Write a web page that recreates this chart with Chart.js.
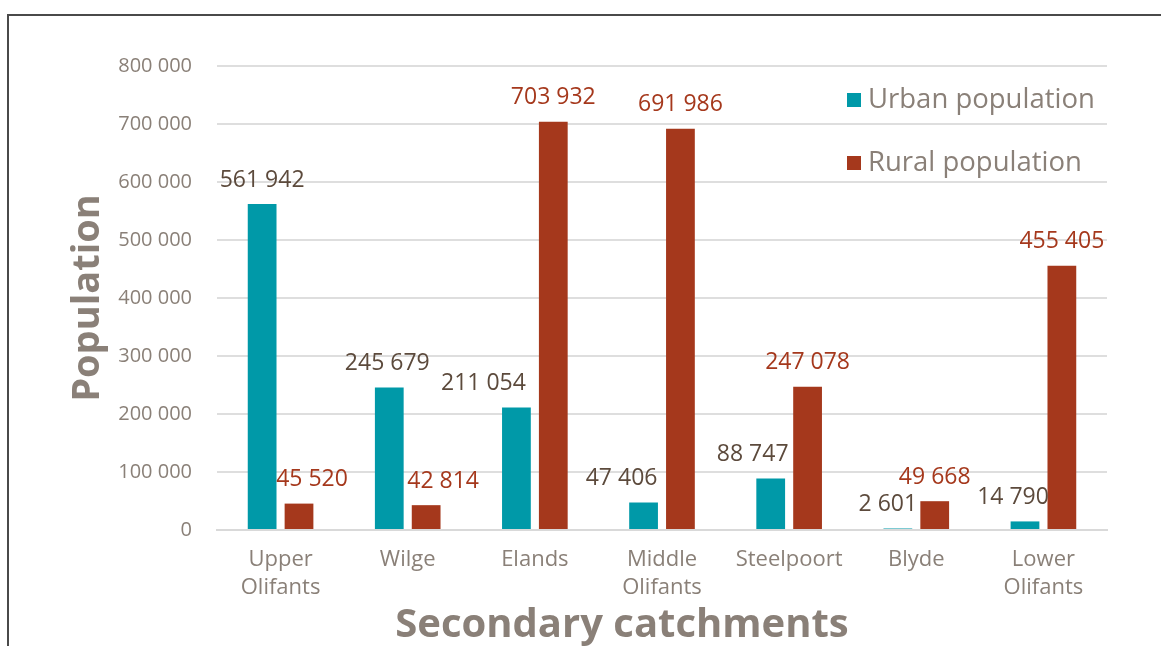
<!DOCTYPE html>
<html>
<head>
<meta charset="utf-8">
<script src="https://cdn.jsdelivr.net/npm/chart.js@4"></script>
<style>
  html, body { margin: 0; padding: 0; background: #fff; }
  #wrap { position: relative; width: 1161px; height: 646px; overflow: hidden; }
  #frame { position: absolute; left: 7px; top: 14px; right: -5px; bottom: -5px;
           border-top: 2px solid #4a4a4a; border-left: 2px solid #4a4a4a; }
  canvas { position: absolute; left: 0; top: 0; }
</style>
</head>
<body>
<div id="wrap">
  <div id="frame"></div>
  <canvas id="chart" width="1161" height="646"></canvas>
</div>
<script>
// Data
const catchments = [
    ['Upper', 'Olifants'], 'Wilge', 'Elands', ['Middle', 'Olifants'],
    'Steelpoort', 'Blyde', ['Lower', 'Olifants']
];
const urbanPopulation = [561942, 245679, 211054, 47406, 88747, 2601, 14790];
const ruralPopulation = [45520, 42814, 703932, 691986, 247078, 49668, 455405];
const yTicks = [0, 100000, 200000, 300000, 400000, 500000, 600000, 700000, 800000];

// Label nudges (style only), so the value labels sit as in the original
const urbanLabelShift = [0, -2, -33, -22, -18, -10, -12];
const ruralLabelShift = [13, 17, 0, 0, 0, 0, 0];

const FONT = "'Open Sans', 'DejaVu Sans', sans-serif";
const GREY_TEXT = '#8a8078';
const URBAN = '#0099a8';
const RURAL = '#a5381c';

function fmt(v) {
    return String(v).replace(/\B(?=(\d{3})+(?!\d))/g, ' ');
}

// Draw the value labels above each bar
const valueLabels = {
    id: 'valueLabels',
    afterDatasetsDraw(chart) {
        const ctx = chart.ctx;
        ctx.save();
        ctx.font = '23px ' + FONT;
        ctx.textAlign = 'center';
        ctx.textBaseline = 'middle';
        chart.data.datasets.forEach((ds, di) => {
            const meta = chart.getDatasetMeta(di);
            const shifts = di === 0 ? urbanLabelShift : ruralLabelShift;
            ctx.fillStyle = di === 0 ? '#5c4a3c' : '#a5381c';
            meta.data.forEach((bar, i) => {
                ctx.fillText(fmt(ds.data[i]), bar.x + shifts[i], bar.y - 24);
            });
        });
        ctx.restore();
    }
};

// Legend inside the plot area, top right, plus the x-axis title
const extras = {
    id: 'extras',
    afterDraw(chart) {
        const ctx = chart.ctx;
        ctx.save();
        ctx.font = '27.5px ' + FONT;
        ctx.textBaseline = 'middle';
        chart.data.datasets.forEach((ds, di) => {
            const y = 100 + di * 63;
            ctx.fillStyle = ds.backgroundColor;
            ctx.fillRect(847, y - 7, 14, 14);
            ctx.fillStyle = GREY_TEXT;
            ctx.fillText(ds.label, 868, y);
        });
        // x title sits left of the plot centre in the original
        ctx.font = 'bold 40px ' + FONT;
        ctx.textAlign = 'center';
        ctx.fillStyle = GREY_TEXT;
        ctx.fillText('Secondary catchments', 622, 626);
        ctx.restore();
    }
};

new Chart(document.getElementById('chart'), {
    type: 'bar',
    data: {
        labels: catchments,
        datasets: [
            { label: 'Urban population', data: urbanPopulation, backgroundColor: URBAN },
            { label: 'Rural population', data: ruralPopulation, backgroundColor: RURAL }
        ]
    },
    options: {
        responsive: false,
        animation: false,
        events: [],
        categoryPercentage: 0.58,
        barPercentage: 0.78,
        layout: { padding: { top: 66, right: 54, left: 0, bottom: 0 } },
        plugins: {
            legend: { display: false },
            tooltip: { enabled: false }
        },
        scales: {
            x: {
                grid: { display: false, drawTicks: false },
                border: { display: true, color: '#d9d9d9', width: 2 },
                ticks: {
                    color: GREY_TEXT,
                    font: { family: FONT, size: 22, lineHeight: 1.3 },
                    padding: 15,
                    maxRotation: 0
                },
                title: { display: false },
                afterFit(scale) { scale.height = 116; }
            },
            y: {
                min: 0,
                max: 800000,
                afterBuildTicks(scale) { scale.ticks = yTicks.map(v => ({ value: v })); },
                grid: { color: '#dedede', lineWidth: 2, drawTicks: false },
                border: { display: false },
                ticks: {
                    color: GREY_TEXT,
                    font: { family: FONT, size: 20 },
                    padding: 25,
                    callback: v => fmt(v)
                },
                title: {
                    display: true,
                    text: 'Population',
                    color: GREY_TEXT,
                    font: { family: FONT, size: 38, weight: 'bold', lineHeight: 1.2 },
                    padding: { top: 65, bottom: 0 }
                },
                afterFit(scale) { scale.width = 217; }
            }
        }
    },
    plugins: [valueLabels, extras]
});
</script>
</body>
</html>
